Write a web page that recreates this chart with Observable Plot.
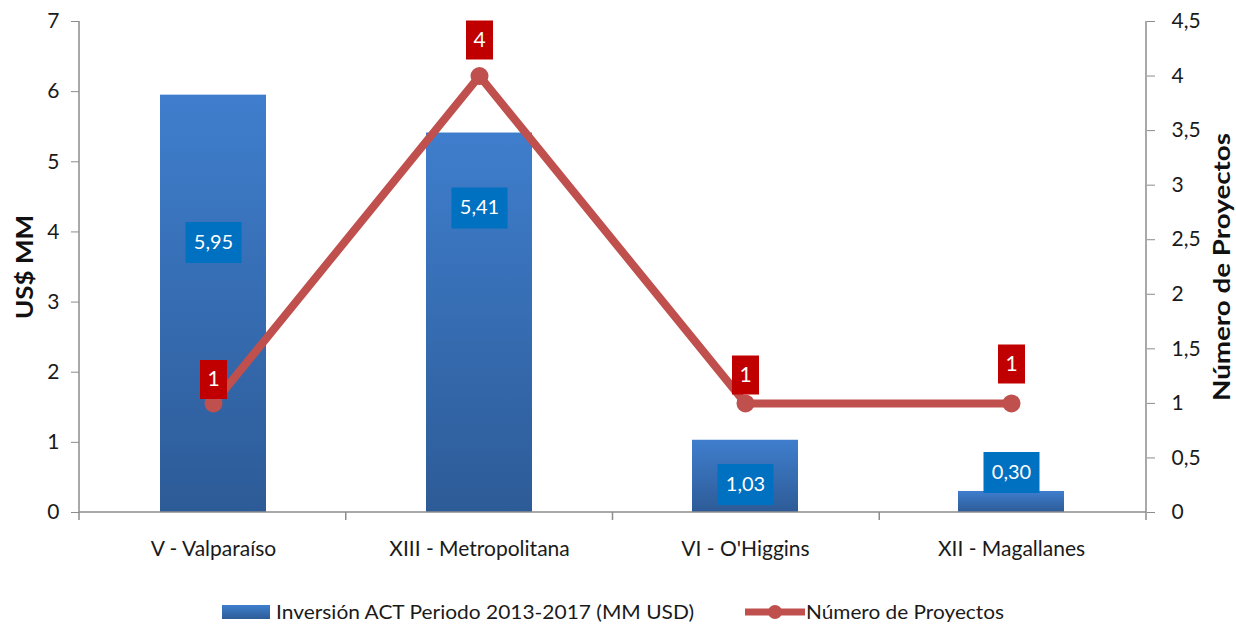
<!DOCTYPE html>
<html><head><meta charset="utf-8">
<script src="https://cdn.jsdelivr.net/npm/d3@7"></script>
<script src="https://cdn.jsdelivr.net/npm/@observablehq/plot@0.6"></script>
<style>
body{margin:0;background:#fff;}
#chart{width:1236px;height:575px;}
#legend{display:block;}
</style></head><body><div id="chart"></div>
<script>
const regions = ["V - Valparaíso", "XIII - Metropolitana", "VI - O'Higgins", "XII - Magallanes"];
const inversion = [5.95, 5.41, 1.03, 0.30];
const proyectos = [1, 4, 1, 1];
const barLabelAt = [3.85, 4.34, 0.40, 0.57];     // where the value boxes sit (US$ MM units)
const countLabelAt = [1.22, 4.33, 1.26, 1.36];   // where the count boxes sit (project units)
const leftTicks = [0, 1, 2, 3, 4, 5, 6, 7];
const rightTicks = [0, 0.5, 1, 1.5, 2, 2.5, 3, 3.5, 4, 4.5];
const seriesNames = ["Inversión ACT Periodo 2013-2017 (MM USD)", "Número de Proyectos"];
const axisTitles = ["US$ MM", "Número de Proyectos"];

const leftMax = 7, rightMax = 4.5, k = leftMax / rightMax;
const fmt = v => String(Math.round(v * 100) / 100).replace(".", ",");
const data = regions.map((r, i) => ({region: r, inv: inversion[i], n: proyectos[i], invAt: barLabelAt[i], nAt: countLabelAt[i]}));
const rectSym = (w, h) => ({draw(ctx) { ctx.rect(-w / 2, -h / 2, w, h); }});

const frameLines = (index, scales, values, dims) => {
  const g = d3.create("svg:g").attr("stroke", "#8c8c8c").attr("stroke-width", 1.5);
  const x0 = dims.marginLeft, x1 = dims.width - dims.marginRight;
  const y0 = dims.height - dims.marginBottom, yt = dims.marginTop;
  const s = (x1 - x0) / regions.length;
  for (let i = 0; i <= regions.length; i++) {
    const xx = x0 + i * s;
    g.append("line").attr("x1", xx).attr("x2", xx).attr("y1", y0).attr("y2", y0 + 8);
  }
  g.append("line").attr("x1", x0).attr("x2", x0).attr("y1", yt).attr("y2", y0);
  g.append("line").attr("x1", x1).attr("x2", x1).attr("y1", yt).attr("y2", y0);
  g.append("line").attr("x1", x0).attr("x2", x1).attr("y1", y0).attr("y2", y0);
  return g.node();
};

const font = "Lato, 'Open Sans', sans-serif";
const chart = Plot.plot({
  width: 1236, height: 575,
  marginLeft: 79, marginRight: 90, marginTop: 21, marginBottom: 63,
  style: {fontFamily: font, fontSize: "21px", color: "#1a1a1a", background: "#fff"},
  x: {domain: regions, paddingInner: 0.6, paddingOuter: 0.3, label: null},
  y: {domain: [0, leftMax], label: null},
  marks: [
    Plot.barY(data, {x: "region", y: "inv", fill: "url(#barGrad)"}),
    Plot.axisX({tickSize: 0, tickPadding: 29, fontSize: 21}),
    Plot.axisY(leftTicks, {anchor: "left", tickSize: 8, tickPadding: 12, stroke: "#8c8c8c", tickFormat: d => fmt(d), label: null, fontSize: 21}),
    Plot.axisY(rightTicks.map(v => v * k), {anchor: "right", tickSize: 8, tickPadding: 17, stroke: "#8c8c8c", tickFormat: d => fmt(d / k), label: null, fontSize: 21}),
    frameLines,
    Plot.dot(data, {x: "region", y: "invAt", symbol: rectSym(56, 41), fill: "#0070c0", r: 5}),
    Plot.text(data, {x: "region", y: "invAt", text: d => d.inv.toFixed(2).replace(".", ","), fill: "white", fontSize: 20}),
    Plot.line(data, {x: "region", y: d => d.n * k, stroke: "#c0504d", strokeWidth: 8}),
    Plot.dot(data, {x: "region", y: d => d.n * k, r: 9, fill: "#c0504d"}),
    Plot.dot(data, {x: "region", y: d => d.nAt * k, symbol: rectSym(27, 39), fill: "#c00000", r: 5}),
    Plot.text(data, {x: "region", y: d => d.nAt * k, text: d => String(d.n), fill: "white", fontSize: 21}),
    Plot.text([axisTitles[0]], {frameAnchor: "left", textAnchor: "middle", rotate: -90, dx: -54, fontWeight: "bold", fontSize: 22, fill: "#111"}),
    Plot.text([axisTitles[1]], {frameAnchor: "right", textAnchor: "middle", rotate: -90, dx: 76, fontWeight: "bold", fontSize: 22, fill: "#111"})
  ]
});
const defs = d3.select(chart).insert("defs", ":first-child");
const grad = defs.append("linearGradient").attr("id", "barGrad").attr("x1", 0).attr("y1", 0).attr("x2", 0).attr("y2", 1);
grad.append("stop").attr("offset", "0%").attr("stop-color", "#3f7ecd");
grad.append("stop").attr("offset", "100%").attr("stop-color", "#2d5b97");
// stretch axis titles to the widths seen in the reference
d3.select(chart).selectAll("text").each(function() {
  const t = this.textContent;
  if (t === axisTitles[0]) d3.select(this).attr("textLength", 104).attr("lengthAdjust", "spacingAndGlyphs");
  if (t === axisTitles[1]) d3.select(this).attr("textLength", 268).attr("lengthAdjust", "spacingAndGlyphs");
});
document.getElementById("chart").append(chart);

// legend below the chart
const lg = d3.select("body").append("svg").attr("id", "legend").attr("width", 1236).attr("height", 58)
  .style("font-family", font).style("font-size", "19px");
const lgGrad = lg.append("defs").append("linearGradient").attr("id", "lgGrad").attr("x1", 0).attr("y1", 0).attr("x2", 0).attr("y2", 1);
lgGrad.append("stop").attr("offset", "0%").attr("stop-color", "#3f7ecd");
lgGrad.append("stop").attr("offset", "100%").attr("stop-color", "#2d5b97");
const cy = 37;
lg.append("rect").attr("x", 222).attr("y", cy - 7).attr("width", 48).attr("height", 14).attr("fill", "url(#lgGrad)");
lg.append("text").attr("x", 276).attr("y", cy).attr("dy", "0.35em").attr("fill", "#1a1a1a")
  .attr("textLength", 418).attr("lengthAdjust", "spacingAndGlyphs").text(seriesNames[0]);
lg.append("line").attr("x1", 745).attr("x2", 805).attr("y1", cy).attr("y2", cy).attr("stroke", "#c0504d").attr("stroke-width", 7);
lg.append("circle").attr("cx", 775).attr("cy", cy).attr("r", 7).attr("fill", "#c0504d");
lg.append("text").attr("x", 806).attr("y", cy).attr("dy", "0.35em").attr("fill", "#1a1a1a")
  .attr("textLength", 198).attr("lengthAdjust", "spacingAndGlyphs").text(seriesNames[1]);
</script></body></html>
